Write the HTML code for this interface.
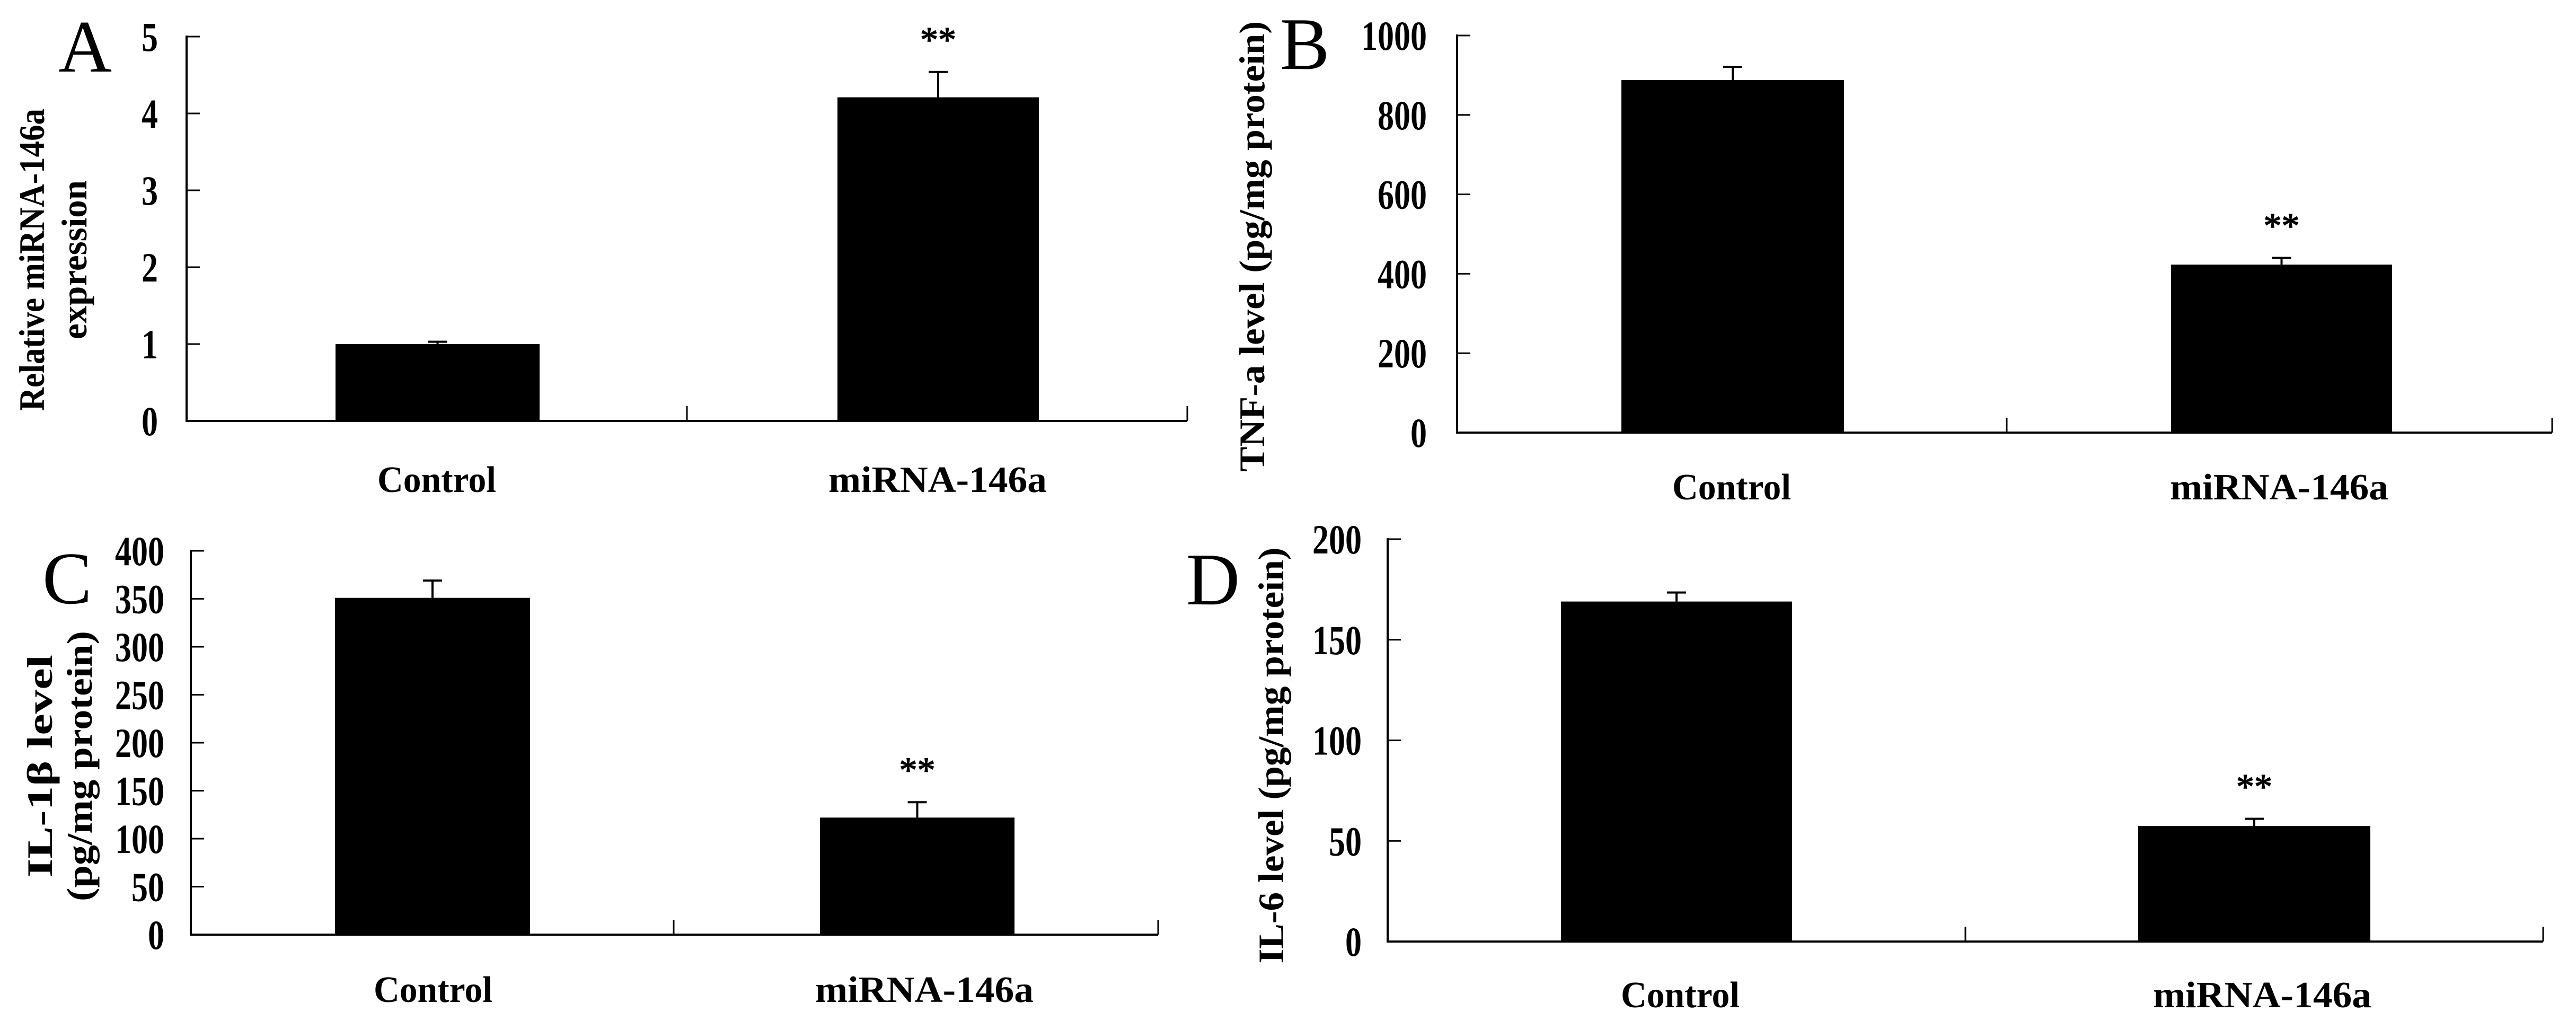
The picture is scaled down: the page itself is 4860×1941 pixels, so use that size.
<!DOCTYPE html>
<html><head><meta charset="utf-8"><style>
html,body{margin:0;padding:0;background:#fff;}
svg{display:block;}
text{font-family:"Liberation Serif",serif;font-weight:bold;fill:#000;}
</style></head><body>
<svg id="fig" width="4860" height="1941" viewBox="0 0 4860 1941" xmlns="http://www.w3.org/2000/svg"></svg>
<script>
// ---- data ----
const categories = ["Control", "miRNA-146a"];
const valuesA = [1.0, 4.21];
const errorsA = [0.03, 0.33];
const valuesB = [888, 423];
const errorsB = [33, 17];
const valuesC = [351, 122];
const errorsC = [18, 16];
const valuesD = [169, 57.4];
const errorsD = [4.5, 3.6];
const ticksA = [0, 1, 2, 3, 4, 5];
const ticksB = [0, 200, 400, 600, 800, 1000];
const ticksC = [0, 50, 100, 150, 200, 250, 300, 350, 400];
const ticksD = [0, 50, 100, 150, 200];
const sigA = ["", "**"];
const sigB = ["", "**"];
const sigC = ["", "**"];
const sigD = ["", "**"];

// ---- layout ----
const panels = [
 {id:"a", letter:"A", lx:110, ly:135, ax:352, y0:794, yTop:69, xEnd:2240, mid:1296,
  bars:[[633,1018],[1580,1960]], vals:valuesA, errs:errorsA, ticks:ticksA, sig:sigA,
  tickRight:298, catY:928, catX:[824,1769],
  title:["Relative miRNA-146a","expression"], titleX:[60,140], titleCY:490, titleLen:[570,300]},
 {id:"b", letter:"B", lx:2415, ly:130, ax:2749, y0:816, yTop:67, xEnd:4815, mid:3786,
  bars:[[3059,3479],[4096,4513]], vals:valuesB, errs:errorsB, ticks:ticksB, sig:sigB,
  tickRight:2692, catY:942, catX:[3267,4300],
  title:["TNF-a level (pg/mg protein)"], titleX:[2362], titleCY:465, titleLen:[850]},
 {id:"c", letter:"C", lx:80, ly:1138, ax:360, y0:1763, yTop:1039, xEnd:2185, mid:1271,
  bars:[[632,1000],[1547,1914]], vals:valuesC, errs:errorsC, ticks:ticksC, sig:sigC,
  tickRight:310, catY:1890, catX:[817,1744],
  title:["IL-1\u03b2 level","(pg/mg protein)"], titleX:[75,150], titleCY:1445, titleLen:[420,510]},
 {id:"d", letter:"D", lx:2238, ly:1140, ax:2618, y0:1776, yTop:1017, xEnd:4798, mid:3708,
  bars:[[2945,3381],[4034,4472]], vals:valuesD, errs:errorsD, ticks:ticksD, sig:sigD,
  tickRight:2569, catY:1900, catX:[3170,4268],
  title:["IL-6 level (pg/mg protein)"], titleX:[2398], titleCY:1425, titleLen:[785]}
];

const NS = "http://www.w3.org/2000/svg";
const svg = document.getElementById("fig");
function mk(tag, attrs, parent){
  const e = document.createElementNS(NS, tag);
  for (const k in attrs) e.setAttribute(k, attrs[k]);
  (parent||svg).appendChild(e);
  return e;
}

panels.forEach(p => {
  const g = mk("g", {});
  
  
  const tmin = p.ticks[0], tmax = p.ticks[p.ticks.length-1];
  const yScale = v => p.y0 - (v - tmin) / (tmax - tmin) * (p.y0 - p.yTop);

  const L = mk("text", {x:p.lx, y:p.ly, "font-size":140, style:"font-weight:normal"}, g);
  L.textContent = p.letter;
  
  

  p.title.forEach((t, i) => {
    const tx = p.titleX[i], ty = p.titleCY;
    const T = mk("text", {x:tx, y:ty, "font-size":68, "text-anchor":"middle",
      transform:`rotate(-90 ${tx} ${ty})`, textLength:p.titleLen[i], lengthAdjust:"spacingAndGlyphs",
      "dominant-baseline":"central"}, g);
    T.textContent = t;
    
    
  });

  const ya = mk("line", {x1:p.ax, y1:p.yTop-2, x2:p.ax, y2:p.y0+2, stroke:"#000", "stroke-width":4}, g);
  
  
  const xa = mk("line", {x1:p.ax, y1:p.y0, x2:p.xEnd, y2:p.y0, stroke:"#000", "stroke-width":4}, g);
  
  
  [p.mid, p.xEnd].forEach(xx => {
    const t = mk("line", {x1:xx, y1:p.y0, x2:xx, y2:p.y0-28, stroke:"#000", "stroke-width":3}, g);
    
    
  });

  p.ticks.forEach(v => {
    const y = yScale(v);
    const t = mk("line", {x1:p.ax, y1:y, x2:p.ax+25, y2:y, stroke:"#000", "stroke-width":3}, g);
    
    
    const s = String(v);
    const lb = mk("text", {x:p.tickRight, y:y+27, "font-size":78, "text-anchor":"end",
      textLength:s.length*31, lengthAdjust:"spacingAndGlyphs"}, g);
    lb.textContent = s;
    
    
  });

  categories.forEach((c, i) => {
    const [x1, x2] = p.bars[i];
    const top = yScale(p.vals[i]);
    const r = mk("rect", {x:x1, y:top, width:x2-x1, height:p.y0-top, fill:"#000"}, g);
    
    
    const cx = (x1 + x2) / 2;
    const et = yScale(p.vals[i] + p.errs[i]);
    const el = mk("path", {d:`M${cx} ${top} V${et} M${cx-18} ${et} H${cx+18}`, stroke:"#000", "stroke-width":4, fill:"none"}, g);
    
    
    if (p.sig[i]) {
      const st = mk("text", {x:cx, y:et-38, "font-size":68, "text-anchor":"middle", style:"font-weight:normal", stroke:"#000", "stroke-width":1.5}, g);
      st.textContent = p.sig[i];
      
      
    }
    const ct = mk("text", {x:p.catX[i], y:p.catY, "font-size":70, "text-anchor":"middle",
      textLength:(i===0?224:412), lengthAdjust:"spacingAndGlyphs"}, g);
    ct.textContent = c;
    
    
  });
});
</script>
</body></html>
